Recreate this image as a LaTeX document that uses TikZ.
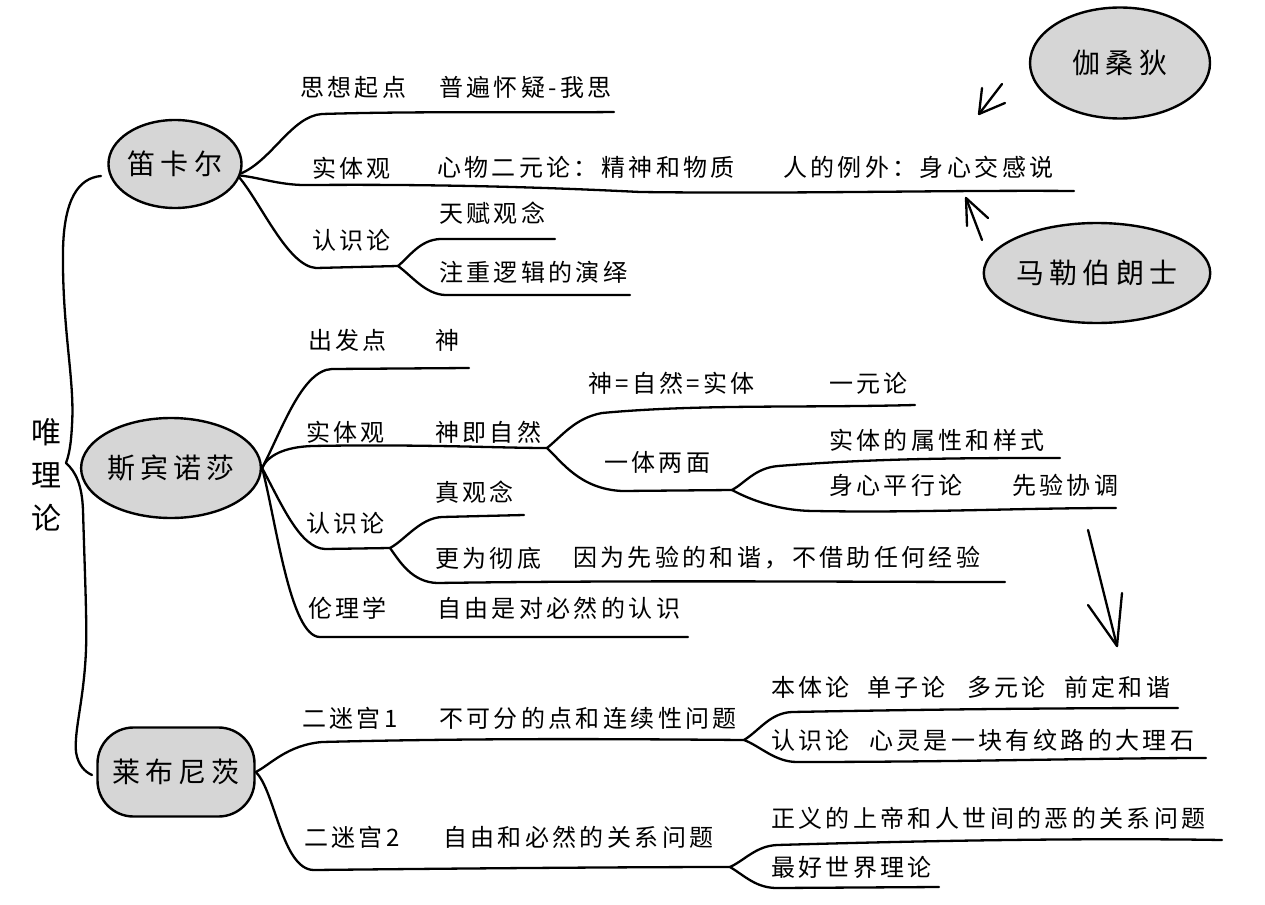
\documentclass[tikz,border=0pt]{standalone}
\usepackage{fontspec}
\newfontfamily\cjk[LetterSpace=14]{Noto Sans CJK SC}
\newfontfamily\cjkbig[LetterSpace=18]{Noto Sans CJK SC}
\usetikzlibrary{shapes.geometric}
\definecolor{blobgray}{RGB}{214,214,214}
\begin{document}
\begin{tikzpicture}[x=1pt,y=-1pt,
  txt/.style={anchor=west,inner sep=0pt,font=\cjk\fontsize{24}{28}\selectfont},
  blob/.style={ellipse,draw=black,line width=2.4pt,fill=blobgray,inner sep=0pt,font=\cjkbig\fontsize{28}{32}\selectfont},
  blobr/.style={rectangle,rounded corners=36pt,draw=black,line width=2.4pt,fill=blobgray,inner sep=0pt,font=\cjkbig\fontsize{28}{32}\selectfont},
  br/.style={line width=2.3pt,line cap=round,line join=round},
]
\fill[white] (0,0) rectangle (1265,904);
\useasboundingbox (0,0) rectangle (1265,904);

% root
\node[font=\cjk\fontsize{30}{43}\selectfont,align=center,inner sep=0pt] (root) at (46,475) {唯\\理\\论};

% blobs
\node[blob,minimum width=129pt,minimum height=88pt] (dk) at (175,164) {笛卡尔};
\node[blob,minimum width=159pt,minimum height=100pt] (sp) at (171,468) {斯宾诺莎};
\node[blobr,minimum width=157pt,minimum height=89pt] (lb) at (176,772) {莱布尼茨};
\node[blob,minimum width=180pt,minimum height=111pt] (gs) at (1120,63) {伽桑狄};
\node[blob,minimum width=225pt,minimum height=100pt] (mb) at (1097,273) {马勒伯朗士};

% brace
\coordinate (bTop) at (101,176);
\coordinate (bBot) at (92,775);
\draw[br] (bTop) .. controls (78,178) and (64,200) .. (63,250)
  .. controls (62,330) and (75,380) .. (72,425)
  .. controls (71,445) and (69,455) .. (66,463)
  .. controls (76,472) and (82,485) .. (83,510)
  .. controls (85,580) and (87,620) .. (86,650)
  .. controls (84,700) and (74,730) .. (76,752)
  .. controls (78,765) and (85,772) .. (bBot);

% Descartes branches
\coordinate (dkJ) at (398,266);
\draw[br] (dk.-8) .. controls (272,160) and (292,116) .. (322,114) .. controls (420,111) and (520,113) .. (614,112);
\draw[br] (dk.-10) .. controls (262,178) and (282,186) .. (312,185) .. controls (450,184) and (560,188) .. (640,192) .. controls (800,194) and (950,190) .. (1074,191);
\draw[br] (dk.-12) .. controls (262,205) and (288,266) .. (316,268) -- (dkJ);
\draw[br] (dkJ) .. controls (410,256) and (420,240) .. (440,239) -- (555,239);
\draw[br] (dkJ) .. controls (412,276) and (425,294) .. (445,295) -- (630,295);

\node[txt] (t1) at (300,87) {思想起点};
\node[txt] (t2) at (439,87) {普遍怀疑-我思};
\node[txt] (t3) at (312,168) {实体观};
\node[txt] (t4) at (437,167) {心物二元论：精神和物质};
\node[txt] (t5) at (783,167) {人的例外：身心交感说};
\node[txt] (t6) at (312,240) {认识论};
\node[txt] (t7) at (439,213) {天赋观念};
\node[txt] (t8) at (439,272) {注重逻辑的演绎};

% arrows from Gassendi / Malebranche
\coordinate (a1s) at (1002,84);
\coordinate (a1t) at (979,114);
\draw[br] (a1s) -- (a1t);
\draw[br] (982,88) -- (a1t) -- (1005,103);
\coordinate (a2s) at (982,240);
\coordinate (a2t) at (966,198);
\draw[br] (a2s) -- (a2t);
\draw[br] (967,226) -- (a2t) -- (988,218);

% Spinoza branches
\coordinate (spJ) at (547,448);
\coordinate (spJ2) at (732,490);
\coordinate (spK) at (390,548);
\draw[br] (sp.east) .. controls (282,430) and (302,370) .. (332,369) -- (469,368);
\draw[br] (sp.east) .. controls (268,455) and (285,447) .. (312,446) .. controls (420,444) and (500,448) .. (spJ);
\draw[br] (spJ) .. controls (562,436) and (575,418) .. (602,413) .. controls (700,404) and (800,408) .. (915,405);
\draw[br] (spJ) .. controls (562,462) and (580,489) .. (622,491) -- (spJ2);
\draw[br] (spJ2) .. controls (745,483) and (755,468) .. (778,466) .. controls (880,458) and (970,458) .. (1060,458);
\draw[br] (spJ2) .. controls (745,497) and (775,511) .. (815,511) .. controls (920,513) and (1020,508) .. (1116,508);
\draw[br] (sp.east) .. controls (282,505) and (300,548) .. (325,549) -- (spK);
\draw[br] (spK) .. controls (405,540) and (420,518) .. (442,517) -- (524,515);
\draw[br] (spK) .. controls (400,562) and (412,582) .. (437,583) .. controls (650,580) and (850,582) .. (1005,582);
\draw[br] (sp.east) .. controls (276,520) and (290,637) .. (320,637) -- (688,637);

\node[txt] (s1) at (308,340) {出发点};
\node[txt] (s2) at (435,340) {神};
\node[txt] (s3) at (306,432) {实体观};
\node[txt] (s4) at (435,432) {神即自然};
\node[txt] (s5) at (588,383) {神=自然=实体};
\node[txt] (s6) at (829,383) {一元论};
\node[txt] (s7) at (604,462) {一体两面};
\node[txt] (s8) at (829,440) {实体的属性和样式};
\node[txt] (s9) at (829,485) {身心平行论};
\node[txt] (s10) at (1012,485) {先验协调};
\node[txt] (s11) at (306,523) {认识论};
\node[txt] (s12) at (435,492) {真观念};
\node[txt] (s13) at (435,558) {更为彻底};
\node[txt] (s14) at (573,558) {因为先验的和谐，不借助任何经验};
\node[txt] (s15) at (308,608) {伦理学};
\node[txt] (s16) at (437,608) {自由是对必然的认识};

% big arrow down
\coordinate (a3s) at (1088,530);
\coordinate (a3t) at (1117,646);
\draw[br] (a3s) -- (a3t);
\draw[br] (1088,605) -- (a3t) -- (1122,593);

% Leibniz branches
\coordinate (lbJ) at (744,740);
\coordinate (lbK) at (730,867);
\draw[br] (lb.east) .. controls (270,765) and (287,745) .. (322,742) .. controls (480,738) and (620,739) .. (lbJ);
\draw[br] (lbJ) .. controls (760,730) and (770,713) .. (792,712) .. controls (950,709) and (1080,708) .. (1178,708);
\draw[br] (lbJ) .. controls (760,746) and (775,762) .. (797,762) .. controls (960,762) and (1100,758) .. (1206,758);
\draw[br] (lb.east) .. controls (275,790) and (282,870) .. (314,870) .. controls (500,868) and (650,867) .. (lbK);
\draw[br] (lbK) .. controls (745,860) and (756,846) .. (777,845) .. controls (950,840) and (1100,838) .. (1222,840);
\draw[br] (lbK) .. controls (745,876) and (756,888) .. (777,888) -- (939,887);

\node[txt] (l1) at (302,718) {二迷宫1};
\node[txt] (l2) at (439,718) {不可分的点和连续性问题};
\node[txt] (l3) at (771,687) {本体论};
\node[txt] (l4) at (867,687) {单子论};
\node[txt] (l5) at (967,687) {多元论};
\node[txt] (l6) at (1064,687) {前定和谐};
\node[txt] (l7) at (771,740) {认识论};
\node[txt] (l8) at (869,740) {心灵是一块有纹路的大理石};
\node[txt] (l9) at (304,837) {二迷宫2};
\node[txt] (l10) at (443,837) {自由和必然的关系问题};
\node[txt] (l11) at (771,818) {正义的上帝和人世间的恶的关系问题};
\node[txt] (l12) at (771,867) {最好世界理论};
\end{tikzpicture}
\end{document}
